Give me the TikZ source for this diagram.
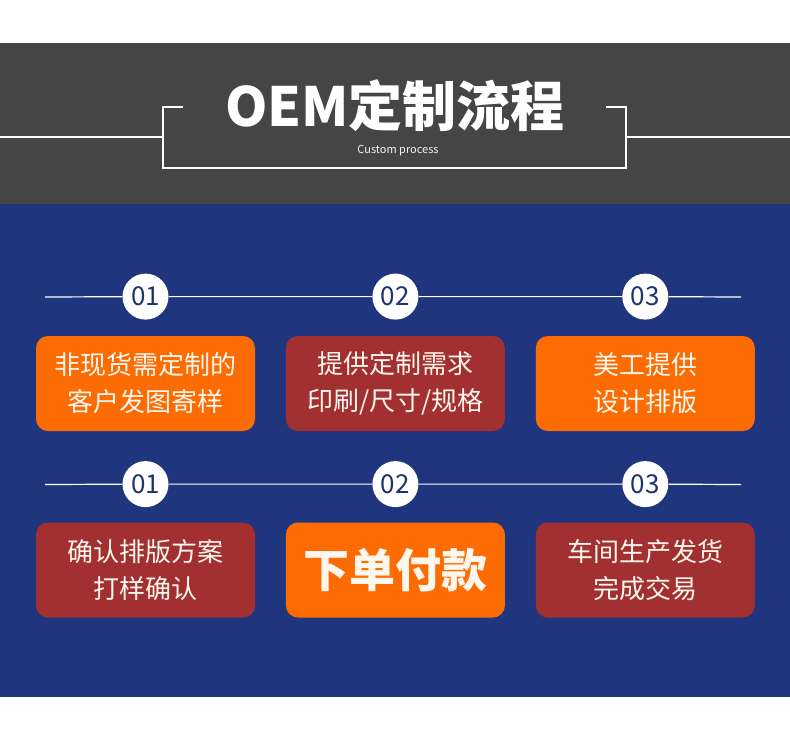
\documentclass[tikz,border=0pt]{standalone}
\usepackage{fontspec}
\setmainfont{Noto Sans CJK SC}
\definecolor{headGray}{RGB}{69,69,69}
\definecolor{flowBlue}{RGB}{31,54,126}
\definecolor{stepOrange}{RGB}{253,108,3}
\definecolor{stepRed}{RGB}{163,48,48}
\definecolor{numNavy}{RGB}{30,52,110}
\definecolor{boxText}{RGB}{255,247,238}
\usetikzlibrary{positioning}

\tikzset{
  stepbox/.style={rounded corners=12pt, minimum width=219pt, minimum height=95pt,
    inner sep=0pt, align=center, text=boxText, font=\fontsize{26}{37}\selectfont},
  numdot/.style={circle, fill=white, minimum size=46pt, inner sep=0pt,
    text=numNavy, font=\fontsize{26}{26}\selectfont},
  flowline/.style={draw=white, line width=1.2pt},
}

\begin{document}
\begin{tikzpicture}[x=1pt, y=-1pt]
    \useasboundingbox (0,0) rectangle (790,729);
    % bands
    \fill[white] (0,0) rectangle (790,729);
    \fill[headGray] (0,43) rectangle (790,204);
    \fill[flowBlue] (0,204) rectangle (790,697);

    % title with bracket frame
    \node[text=white, font=\fontsize{54}{54}\selectfont\bfseries] (title) at (395,106) {OEM定制流程};
    \node[text=white!90!gray, font=\fontsize{11}{11}\selectfont] (subtitle) at (398,151) {Custom process};
    \draw[flowline] (0,137) -- (163,137);
    \draw[flowline] (183,107) -- (163,107) -- (163,168) -- (626,168) -- (626,107) -- (606,107);
    \draw[flowline] (626,137) -- (790,137);

    % first row
    \node[stepbox, fill=stepOrange] (b1) at (145.5,383.5) {非现货需定制的\\客户发图寄样};
    \node[stepbox, fill=stepRed, right=30.5pt of b1] (b2) {提供定制需求\\印刷/尺寸/规格};
    \node[stepbox, fill=stepOrange, right=30.5pt of b2] (b3) {美工提供\\设计排版};
    \node[numdot, above=16pt of b1] (n1) {01};
    \node[numdot, above=16pt of b2] (n2) {02};
    \node[numdot, above=16pt of b3] (n3) {03};
    \coordinate (lft1) at (45,297);
    \coordinate (rgt1) at (741,297);
    \draw[flowline] (lft1) -- (n1) -- (n2) -- (n3) -- (rgt1);

    % second row
    \node[stepbox, fill=stepRed] (b4) at (145.5,570) {确认排版方案\\打样确认};
    \node[stepbox, fill=stepOrange, right=30.5pt of b4, font=\fontsize{46}{46}\selectfont\bfseries] (b5) {下单付款};
    \node[stepbox, fill=stepRed, right=30.5pt of b5] (b6) {车间生产发货\\完成交易};
    \node[numdot, above=15pt of b4] (n4) {01};
    \node[numdot, above=15pt of b5] (n5) {02};
    \node[numdot, above=15pt of b6] (n6) {03};
    \coordinate (lft2) at (45,484.5);
    \coordinate (rgt2) at (741,484.5);
    \draw[flowline] (lft2) -- (n4) -- (n5) -- (n6) -- (rgt2);
  \end{tikzpicture}
\end{document}
